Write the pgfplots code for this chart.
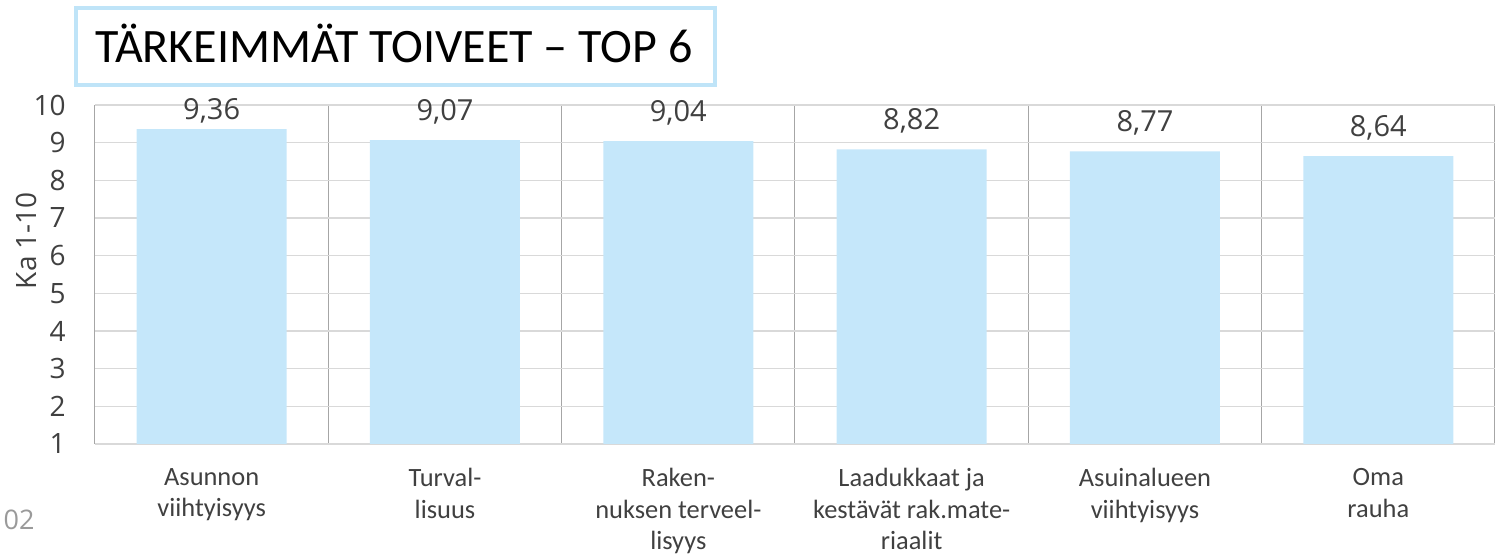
\documentclass[border=0pt]{standalone}
\usepackage{pgfplots}
\pgfplotsset{compat=1.18}
\usepackage{pgfplotstable}
\usepackage{fontspec}
\setmainfont{Carlito}
\newfontfamily\osans{Open Sans}
\definecolor{barblue}{HTML}{C5E7FA}
\definecolor{txtgray}{HTML}{404040}
\definecolor{gridlight}{HTML}{D9D9D9}
\definecolor{griddark}{HTML}{A6A6A6}
\definecolor{boxblue}{HTML}{BFE4F8}
\definecolor{pagegray}{HTML}{9A9A9A}

\pgfplotstableread{
x y s
1 9.36 5
2 9.07 10
3 9.04 10
4 8.82 10
5 8.77 10
6 8.64 10
}\datatable

\begin{document}
\begin{tikzpicture}
\useasboundingbox (0,0) rectangle (748pt,277.5pt);
\begin{axis}[
  scale only axis,
  width=700pt, height=169.5pt,
  at={(47.5pt,55.5pt)}, anchor=south west,
  xmin=0.5, xmax=6.5, ymin=1, ymax=10,
  ytick={1,...,10},
  xtick={1,...,6},
  xticklabels={{Asunnon\\viihtyisyys},{Turval-\\lisuus},{Raken-\\nuksen terveel-\\lisyys},{Laadukkaat ja\\kestävät rak.mate-\\riaalit},{Asuinalueen\\viihtyisyys},{Oma\\rauha}},
  minor xtick={0.5,1.5,...,6.5},
  xminorgrids, ymajorgrids,
  major grid style={gridlight, line width=0.7pt},
  minor grid style={griddark, line width=0.5pt},
  axis line style={draw=none},
  major tick length=0pt, minor tick length=0pt,
  /pgf/number format/assume math mode=true,
  yticklabel style={font=\osans\fontsize{14}{16}\selectfont, text=txtgray, anchor=east, inner sep=0pt, xshift=-14.5pt},
  xticklabel style={font=\fontsize{13.2}{15.75}\selectfont, text=txtgray, align=center, anchor=north, inner sep=0pt, yshift=-12pt},
  ylabel={Ka 1-10},
  ylabel style={font=\osans\fontsize{14}{16}\selectfont, text=txtgray, at={(axis description cs:-0.0486,0.6)}, anchor=center},
  clip mode=individual,
  ybar,
]
\addplot[fill=barblue, draw=none, bar width=75pt,
  point meta=explicit,
  visualization depends on={\thisrow{s} \as \lshift},
  nodes near coords={\pgfmathprintnumber[fixed,fixed zerofill,precision=2,use comma,assume math mode=true]{\pgfplotspointmeta}},
  every node near coord/.append style={font=\osans\fontsize{14.5}{17}\selectfont, text=txtgray, anchor=base, inner sep=0pt, yshift=\lshift pt},
] table[x=x, y=y, meta=y] {\datatable};
\end{axis}
\draw[boxblue, line width=2pt] (37.75pt,235pt) rectangle (357.25pt,273.25pt);
\node[anchor=base west, inner sep=0pt, font=\fontsize{24}{28}\selectfont] at (47.5pt,246pt) {TÄRKEIMMÄT TOIVEET – TOP 6};
\node[anchor=base east, inner sep=0pt, font=\osans\fontsize{13.5}{16}\selectfont, text=pagegray] at (17.5pt,12.5pt) {102};
\end{tikzpicture}
\end{document}
